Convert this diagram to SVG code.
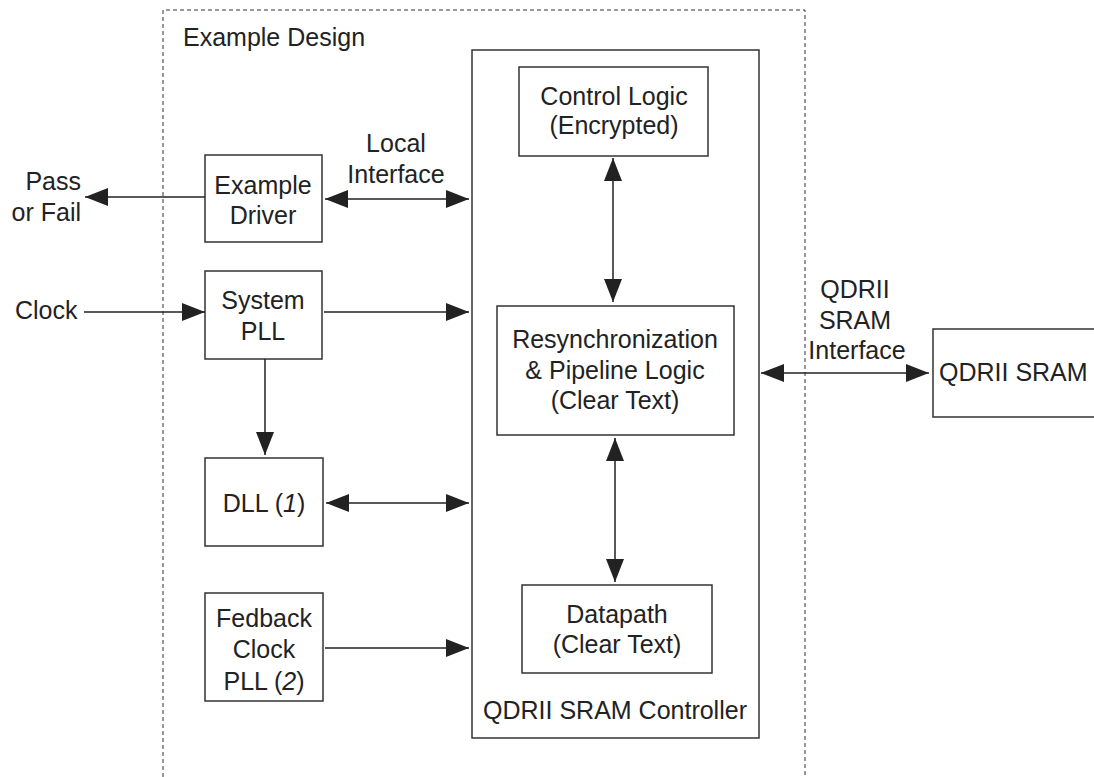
<svg xmlns="http://www.w3.org/2000/svg" width="1094" height="777" viewBox="0 0 1094 777">
<style>
.box{fill:#fff;stroke:#333;stroke-width:1.5}
.t{font-family:"Liberation Sans",Arial,sans-serif;font-size:25px;fill:#222}
.c{text-anchor:middle}
.ln{stroke:#222;stroke-width:1.5;fill:none}
</style>
<defs>
<marker id="ah" viewBox="0 0 23 18" refX="23" refY="9" markerWidth="23" markerHeight="18" markerUnits="userSpaceOnUse" orient="auto-start-reverse">
<path d="M0,0 L23,9 L0,18 Z" fill="#222"/>
</marker>
</defs>
<rect width="1094" height="777" fill="#fff"/>
<g id="example-design">
<path d="M163,777 V10 H805 V777" fill="none" stroke="#333" stroke-width="1" stroke-dasharray="4,3"/>
<text class="t" x="183" y="46">Example Design</text>
</g>
<g id="controller">
<rect class="box" x="472" y="50" width="287" height="688"/>
<text class="t c" x="615" y="719">QDRII SRAM Controller</text>
</g>
<g id="control-logic">
<rect class="box" x="519" y="67" width="189" height="89"/>
<text class="t c" x="614" y="105">Control Logic</text>
<text class="t c" x="614" y="134">(Encrypted)</text>
</g>
<g id="resync">
<rect class="box" x="497" y="306" width="237" height="129"/>
<text class="t c" x="615" y="348">Resynchronization</text>
<text class="t c" x="615" y="379">&amp; Pipeline Logic</text>
<text class="t c" x="615" y="409">(Clear Text)</text>
</g>
<g id="datapath">
<rect class="box" x="522" y="585" width="190" height="88"/>
<text class="t c" x="617" y="623">Datapath</text>
<text class="t c" x="617" y="653">(Clear Text)</text>
</g>
<g id="example-driver">
<rect class="box" x="205" y="155" width="117" height="87"/>
<text class="t c" x="263" y="194">Example</text>
<text class="t c" x="263" y="224">Driver</text>
</g>
<g id="system-pll">
<rect class="box" x="205" y="271" width="117" height="88"/>
<text class="t c" x="263" y="309">System</text>
<text class="t c" x="263" y="340">PLL</text>
</g>
<g id="dll">
<rect class="box" x="205" y="458" width="118" height="88"/>
<text class="t c" x="264" y="512">DLL (<tspan font-style="italic">1</tspan>)</text>
</g>
<g id="feedback-pll">
<rect class="box" x="205" y="593" width="118" height="108"/>
<text class="t c" x="264" y="627">Fedback</text>
<text class="t c" x="264" y="658">Clock</text>
<text class="t c" x="264" y="690">PLL (<tspan font-style="italic">2</tspan>)</text>
</g>
<g id="qdrii-sram">
<rect class="box" x="933" y="329" width="170" height="88"/>
<text class="t" x="939" y="381">QDRII SRAM</text>
</g>
<g id="labels">
<text class="t" x="81" y="190" text-anchor="end">Pass</text>
<text class="t" x="81" y="221" text-anchor="end">or Fail</text>
<text class="t" x="15" y="319">Clock</text>
<text class="t c" x="396" y="152">Local</text>
<text class="t c" x="396" y="183">Interface</text>
<text class="t c" x="855" y="298">QDRII</text>
<text class="t c" x="855" y="329">SRAM</text>
<text class="t c" x="857" y="359">Interface</text>
</g>
<g id="connectors">
<line class="ln" x1="205" y1="197" x2="85" y2="197" marker-end="url(#ah)"/>
<line class="ln" x1="325" y1="199" x2="469" y2="199" marker-start="url(#ah)" marker-end="url(#ah)"/>
<line class="ln" x1="84" y1="312" x2="205" y2="312" marker-end="url(#ah)"/>
<line class="ln" x1="324" y1="312" x2="469" y2="312" marker-end="url(#ah)"/>
<line class="ln" x1="265" y1="359" x2="265" y2="455" marker-end="url(#ah)"/>
<line class="ln" x1="326" y1="503" x2="469" y2="503" marker-start="url(#ah)" marker-end="url(#ah)"/>
<line class="ln" x1="325" y1="648" x2="469" y2="648" marker-end="url(#ah)"/>
<line class="ln" x1="613" y1="158" x2="613" y2="302" marker-start="url(#ah)" marker-end="url(#ah)"/>
<line class="ln" x1="615" y1="438" x2="615" y2="582" marker-start="url(#ah)" marker-end="url(#ah)"/>
<line class="ln" x1="761" y1="373" x2="929" y2="373" marker-start="url(#ah)" marker-end="url(#ah)"/>
</g>
</svg>
